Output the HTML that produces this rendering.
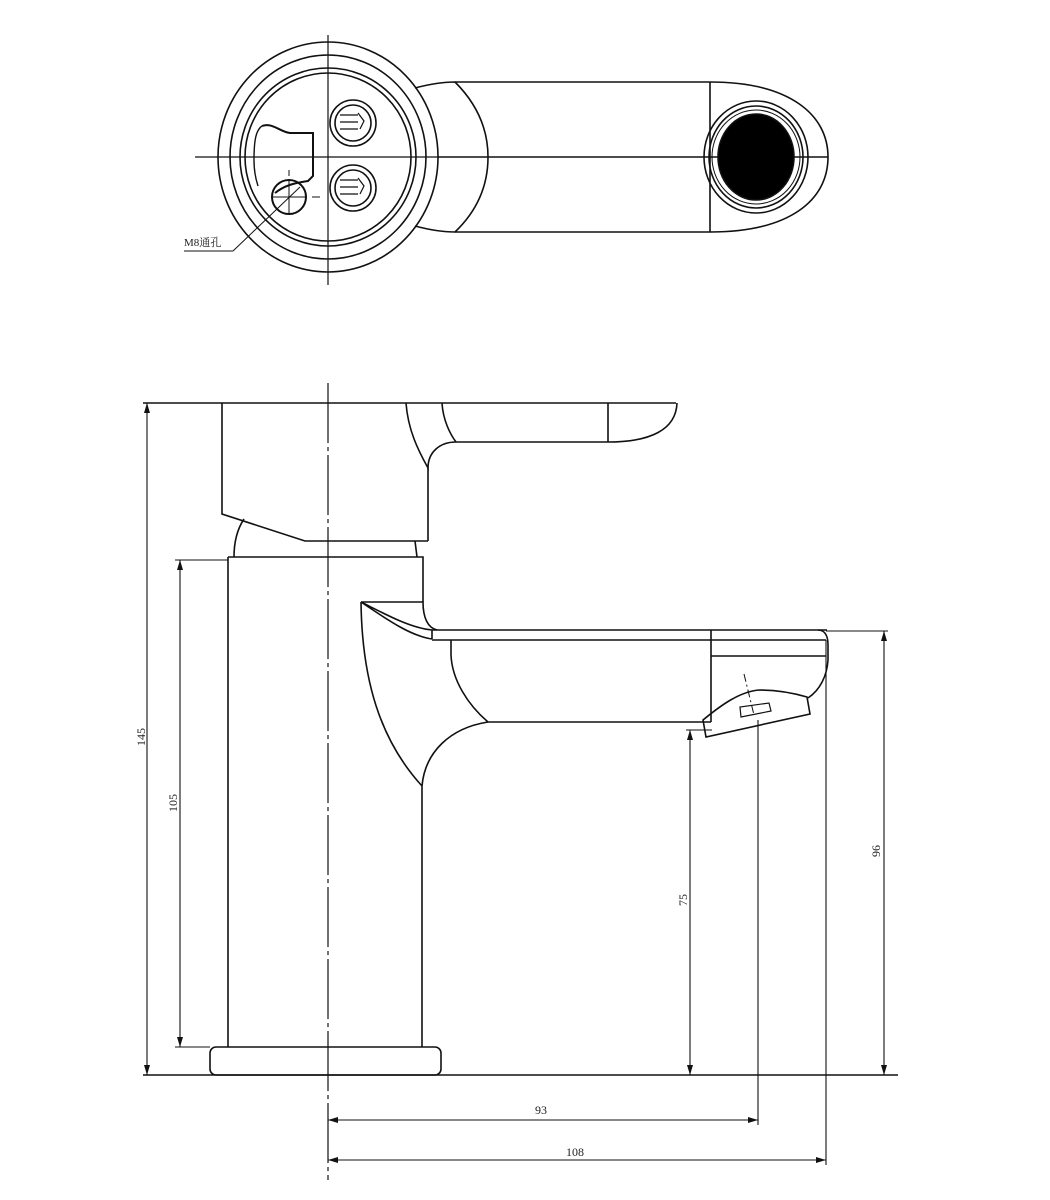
<!DOCTYPE html>
<html><head><meta charset="utf-8"><style>
html,body{margin:0;padding:0;background:#fff;}
svg{display:block;}
text{font-family:"Liberation Serif","Noto Serif CJK SC",serif;font-size:12px;fill:#222;}
</style></head><body>
<svg width="1050" height="1200" viewBox="0 0 1050 1200" xmlns="http://www.w3.org/2000/svg">
<g fill="none" stroke="#111" stroke-width="1.6">
<!-- TOP VIEW -->
<ellipse cx="328" cy="157" rx="110" ry="115"/>
<ellipse cx="328" cy="157" rx="98" ry="102"/>
<ellipse cx="328" cy="157" rx="88" ry="89"/>
<ellipse cx="328" cy="157" rx="83" ry="84"/>
<circle cx="353" cy="123" r="23"/>
<circle cx="353" cy="123" r="18"/>
<circle cx="353" cy="188" r="23"/>
<circle cx="353" cy="188" r="18"/>
<path d="M340 115 h18 M340 122 h18 M340 129 h18 M358 113 l6 8 l-4 8 M340 180 h18 M340 187 h18 M340 194 h18 M358 178 l6 8 l-4 8" stroke-width="1.2"/>
<path d="M262 126 C272 122 280 132 290 133 L313 133 L313 176 L308 181 C295 183 285 185 275 193" stroke-width="2"/>
<path d="M262 126 C256 130 254 140 254 160 C254 172 256 180 258 186" stroke-width="1.4"/>
<circle cx="289" cy="197" r="17" stroke-width="2"/>
<path d="M271 197 h36 M289 179 v36 M312 197 h8 M289 170 v6" stroke-width="1"/>
<path d="M195 157 H438 M328 35 V285" stroke-width="1.2"/>
<path d="M233 251 L300 187 M184 251 H233" stroke-width="1"/>
<!-- spout top view -->
<path d="M415 88 C430 84 445 82 455 82 C478 105 488 130 488 157 C488 184 478 210 455 232 C445 232 430 230 415 226"/>
<path d="M455 82 H710 M455 232 H710 M710 82 V232"/>
<path d="M710 82 C790 82 828 115 828 157 C828 200 790 232 710 232"/>
<path d="M438 157 H828"/>
<ellipse cx="756" cy="157" rx="52" ry="56"/>
<ellipse cx="756" cy="157" rx="47" ry="51"/>
<ellipse cx="756" cy="157" rx="44" ry="47" stroke-width="1"/>
<ellipse cx="756" cy="157" rx="38" ry="43" fill="#000"/>

<!-- SIDE VIEW -->
<path d="M222 403 L222 514 L305 541 L428 541"/>
<path d="M143 403 H676"/>
<path d="M406 403 C408 430 418 450 428 468 C428 452 440 442 456 442 L608 442 C650 442 676 430 677 403"/>
<path d="M442 403 C443 420 450 434 456 442 M608 403 V442"/>
<path d="M428 468 V541"/>
<path d="M234 557 C234 540 238 528 244 519 M415 541 L417 557"/>
<path d="M228 557 H423 V602 M228 557 V1047"/>
<path d="M361 602 H423 C423 618 428 628 437 630"/>
<path d="M361 602 C385 614 410 628 432 630 M361 602 C385 618 410 636 432 639 M432 630 V639"/>
<path d="M432 630 H827 M432 640 H826 M711 656 H826"/>
<path d="M451 640 V655 C452 680 468 705 488 722 H711 M711 630 V722"/>
<path d="M818 630 C825 630 828 636 828 645 V660 C827 676 820 690 808 698"/>
<path d="M361 602 C362 680 380 740 422 786 M488 722 C450 728 425 752 422 786 V1047"/>
<!-- aerator -->
<path d="M703 720 L706 737 L810 714 L807 697 C790 692 775 690 760 690 C740 691 720 706 703 720 Z"/>
<path d="M741 717 L740 707 L769 703 L771 711 Z" stroke-width="1.2"/>
<path d="M744 674 L754 715" stroke-width="1" stroke-dasharray="8 3 2 3"/>
<rect x="210" y="1047" width="231" height="28" rx="6"/>
<path d="M143 1075 H898"/>
<path d="M328 383 V1180" stroke-width="1.2" stroke-dasharray="60 4 4 4"/>
<g stroke-width="1.1">
<path d="M147 403 V1075 M175 560 H228 M180 560 V1047 M175 1047 H210"/>
<path d="M686 730 H712 M690 730 V1075 M826 631 H888 M884 631 V1075"/>
<path d="M758 720 V1125 M328 1120 H758 M826 640 V1165 M328 1160 H826"/>
</g>
</g>
<g fill="#111">
<path d="M147 403 l-3 10 h6 z M147 1075 l-3 -10 h6 z"/>
<path d="M180 560 l-3 10 h6 z M180 1047 l-3 -10 h6 z"/>
<path d="M690 730 l-3 10 h6 z M690 1075 l-3 -10 h6 z"/>
<path d="M884 631 l-3 10 h6 z M884 1075 l-3 -10 h6 z"/>
<path d="M328 1120 l10 -3 v6 z M758 1120 l-10 -3 v6 z"/>
<path d="M328 1160 l10 -3 v6 z M826 1160 l-10 -3 v6 z"/>
</g>
<text x="184" y="246" style="font-size:11px">M8通孔</text>
<text transform="translate(145 737) rotate(-90)" text-anchor="middle">145</text>
<text transform="translate(177 803) rotate(-90)" text-anchor="middle">105</text>
<text transform="translate(687 900) rotate(-90)" text-anchor="middle">75</text>
<text transform="translate(880 851) rotate(-90)" text-anchor="middle">96</text>
<text x="541" y="1114" text-anchor="middle">93</text>
<text x="575" y="1156" text-anchor="middle">108</text>
</svg>
</body></html>
